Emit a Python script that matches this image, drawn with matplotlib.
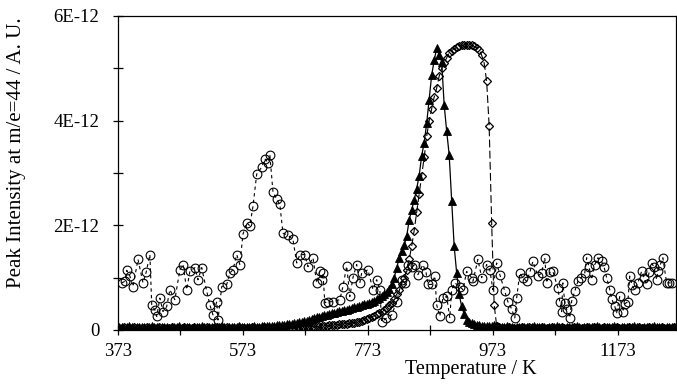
"""
TPD profile: m/e=44 peak intensity vs. temperature for three samples.
"""

import numpy as np
import matplotlib
matplotlib.use("Agg")
import matplotlib.pyplot as plt
from matplotlib.ticker import FuncFormatter, MultipleLocator

plt.rcParams.update({
    "font.family": ["Liberation Serif", "DejaVu Serif"],
    "font.size": 13.5,
    "axes.linewidth": 0.9,
})

SCALE = 1e-12

# Sample A (open circles): noisy signal with a peak near 610 K
circ_temp = [
    379, 384, 387, 392, 397, 405, 413, 418, 424, 427,
    432, 435, 440, 445, 451, 456, 464, 472, 477, 483,
    488, 496, 501, 507, 515, 520, 525, 531, 533, 539,
    547, 552, 557, 563, 568, 573, 579, 584, 589, 595,
    603, 608, 613, 616, 621, 627, 632, 637, 645, 653,
    659, 664, 672, 677, 685, 691, 696, 699, 701, 704,
    709, 717, 728, 733, 739, 744, 749, 755, 760, 763,
    773, 781, 787, 792, 795, 802, 811, 819, 827, 832,
    837, 843, 848, 853, 861, 866, 869, 875, 880, 883,
    888, 893, 899, 904, 907, 912, 920, 925, 931, 939,
    941, 949, 955, 963, 968, 973, 979, 984, 992, 997,
    1003, 1008, 1011, 1016, 1021, 1027, 1032, 1037, 1045, 1051,
    1056, 1059, 1064, 1069, 1077, 1080, 1083, 1085, 1088, 1091,
    1096, 1099, 1104, 1109, 1114, 1120, 1123, 1127, 1131, 1136,
    1141, 1147, 1151, 1155, 1160, 1163, 1168, 1171, 1176, 1181,
    1184, 1189, 1192, 1196, 1200, 1205, 1211, 1215, 1219, 1223,
    1227, 1231, 1235, 1237, 1241, 1245, 1251, 1255, 1259,
]
circ_vals = [
    0.90, 0.93, 1.14, 1.03, 0.83, 1.35, 0.90, 1.10, 1.44, 0.48,
    0.38, 0.26, 0.61, 0.35, 0.45, 0.77, 0.58, 1.15, 1.25, 0.77,
    1.12, 1.19, 0.96, 1.19, 0.74, 0.48, 0.29, 0.54, 0.19, 0.83,
    0.87, 1.09, 1.15, 1.44, 1.25, 1.83, 2.05, 1.99, 2.36, 2.98,
    3.11, 3.27, 3.20, 3.35, 2.64, 2.50, 2.40, 1.85, 1.81, 1.73,
    1.28, 1.44, 1.44, 1.21, 1.38, 0.90, 1.12, 0.96, 1.09, 0.52,
    0.54, 0.54, 0.58, 0.83, 1.22, 0.64, 1.00, 1.25, 0.90, 1.09,
    1.15, 0.77, 0.96, 0.77, 0.16, 0.22, 0.29, 0.54, 0.95, 0.90,
    1.25, 1.20, 1.25, 1.06, 1.25, 1.10, 0.87, 0.87, 1.03, 0.48,
    0.26, 0.61, 0.64, 0.23, 0.77, 0.90, 0.83, 0.77, 1.12, 1.00,
    0.93, 1.35, 1.00, 1.25, 1.15, 0.77, 1.28, 1.06, 0.74, 0.54,
    0.40, 0.23, 0.61, 1.09, 1.00, 0.93, 1.10, 1.31, 1.03, 1.09,
    1.38, 0.90, 1.10, 1.12, 0.80, 0.54, 0.35, 0.90, 0.52, 0.40,
    0.23, 0.55, 0.74, 0.93, 1.00, 1.09, 1.38, 1.20, 0.96, 1.25,
    1.38, 1.31, 1.20, 1.00, 0.77, 0.60, 0.45, 0.33, 0.64, 0.35,
    0.50, 0.54, 1.03, 0.85, 0.77, 0.90, 1.12, 1.00, 0.87, 1.10,
    1.28, 1.20, 0.96, 1.12, 1.25, 1.38, 0.90, 0.90, 0.90,
]

# Samples B (filled triangles) and C (open diamonds) share a 4 K grid
grid_temp = np.arange(375, 1264, 4)

tri_vals = (
    # 375-591 K
    [0.05, 0.06, 0.04, 0.05, 0.07, 0.05, 0.04, 0.06, 0.05, 0.05,
     0.06, 0.04, 0.05, 0.07, 0.05, 0.06, 0.04, 0.05, 0.06, 0.05,
     0.04, 0.06, 0.05, 0.05, 0.07, 0.04, 0.05, 0.06, 0.05, 0.04,
     0.06, 0.05, 0.05, 0.07, 0.05, 0.04, 0.06, 0.05, 0.06, 0.05,
     0.05, 0.07, 0.05, 0.04, 0.06, 0.06, 0.05, 0.05, 0.07, 0.06,
     0.05, 0.06, 0.06, 0.05, 0.07]
    # 595-819 K
    + [0.06, 0.06, 0.07, 0.07, 0.07, 0.08, 0.08, 0.08, 0.09, 0.09,
       0.10, 0.10, 0.11, 0.11, 0.12, 0.13, 0.14, 0.15, 0.16, 0.17,
       0.18, 0.19, 0.21, 0.22, 0.24, 0.25, 0.27, 0.28, 0.29, 0.31,
       0.32, 0.33, 0.35, 0.36, 0.37, 0.38, 0.39, 0.40, 0.42, 0.43,
       0.44, 0.46, 0.47, 0.49, 0.50, 0.52, 0.54, 0.56, 0.59, 0.62,
       0.65, 0.69, 0.73, 0.79, 0.88, 1.00, 1.18]
    # 823-979 K
    + [1.38, 1.50, 1.62, 1.79, 2.10, 2.30, 2.48, 2.70, 2.95, 3.33,
       3.58, 3.95, 4.40, 4.87, 5.15, 5.38, 5.25, 5.13, 4.30, 3.80,
       3.35, 2.47, 1.60, 1.09, 0.68, 0.45, 0.30, 0.19, 0.15, 0.13,
       0.11, 0.10, 0.09, 0.08, 0.08, 0.07, 0.07, 0.08, 0.09, 0.07]
    # 983-1263 K
    + [0.06, 0.05, 0.05, 0.07, 0.05, 0.06, 0.04, 0.05, 0.06, 0.05,
       0.05, 0.06, 0.04, 0.05, 0.07, 0.05, 0.05, 0.06, 0.05, 0.04,
       0.06, 0.05, 0.05, 0.07, 0.06, 0.05, 0.04, 0.05, 0.06, 0.05,
       0.05, 0.07, 0.05, 0.04, 0.06, 0.05, 0.06, 0.05, 0.05, 0.07,
       0.05, 0.04, 0.06, 0.05, 0.05, 0.06, 0.07, 0.05, 0.04, 0.06,
       0.05, 0.06, 0.05, 0.05, 0.07, 0.05, 0.06, 0.04, 0.05, 0.06,
       0.05, 0.05, 0.07, 0.05, 0.06, 0.05, 0.04, 0.06, 0.05, 0.05,
       0.06]
)

dia_vals = (
    # 375-655 K
    [0.04, 0.03, 0.05, 0.04, 0.03, 0.04, 0.05, 0.03, 0.04, 0.04,
     0.03, 0.05, 0.04, 0.03, 0.04, 0.04, 0.05, 0.03, 0.04, 0.03,
     0.04, 0.05, 0.03, 0.04, 0.04, 0.03, 0.05, 0.04, 0.03, 0.04,
     0.05, 0.04, 0.03, 0.04, 0.04, 0.05, 0.03, 0.04, 0.03, 0.05,
     0.04, 0.03, 0.04, 0.05, 0.04, 0.03, 0.04, 0.04, 0.05, 0.03,
     0.04, 0.04, 0.03, 0.05, 0.04, 0.04, 0.03, 0.04, 0.05, 0.04,
     0.04, 0.03, 0.04, 0.05, 0.04, 0.04, 0.03, 0.05, 0.04, 0.04,
     0.05]
    # 659-839 K
    + [0.05, 0.05, 0.05, 0.06, 0.06, 0.06, 0.06, 0.06, 0.07, 0.07,
       0.07, 0.08, 0.08, 0.09, 0.09, 0.10, 0.10, 0.11, 0.11, 0.12,
       0.12, 0.13, 0.13, 0.14, 0.15, 0.16, 0.18, 0.20, 0.21, 0.23,
       0.25, 0.27, 0.30, 0.32, 0.34, 0.38, 0.42, 0.47, 0.52, 0.60,
       0.68, 0.77, 0.88, 1.00, 1.15, 1.35]
    # 843-979 K
    + [1.60, 1.90, 2.25, 2.60, 2.95, 3.30, 3.70, 4.00, 4.23, 4.45,
       4.62, 4.85, 5.00, 5.10, 5.20, 5.30, 5.34, 5.37, 5.40, 5.42,
       5.44, 5.45, 5.45, 5.45, 5.44, 5.42, 5.39, 5.35, 5.25, 5.10,
       4.75, 3.90, 2.05, 0.48, 0.08]
    # 983-1263 K
    + [0.05, 0.04, 0.03, 0.04, 0.05, 0.04, 0.03, 0.04, 0.04, 0.05,
       0.03, 0.04, 0.05, 0.04, 0.03, 0.04, 0.04, 0.05, 0.04, 0.03,
       0.04, 0.05, 0.04, 0.03, 0.04, 0.05, 0.04, 0.04, 0.03, 0.04,
       0.05, 0.04, 0.03, 0.04, 0.04, 0.05, 0.03, 0.04, 0.05, 0.04,
       0.04, 0.03, 0.05, 0.04, 0.04, 0.03, 0.04, 0.05, 0.04, 0.03,
       0.04, 0.04, 0.05, 0.03, 0.04, 0.04, 0.05, 0.04, 0.03, 0.04,
       0.05, 0.04, 0.04, 0.03, 0.04, 0.05, 0.04, 0.03, 0.04, 0.04,
       0.05]
)

x_major = [373, 573, 773, 973, 1173]
x_minor = [473, 673, 873, 1073]


def sci_label(v, _pos):
    if abs(v) < 1e-20:
        return "0"
    return f"{v / SCALE:.0f}E-12"


fig = plt.figure(figsize=(6.77, 3.85), dpi=100)
ax = fig.add_axes([0.1743, 0.1429, 0.8242, 0.8156])

ax.plot(circ_temp, np.array(circ_vals) * SCALE, color="black", lw=0.8,
        ls=(0, (3, 3)), marker="o", ms=6.3, mfc="none", mec="black", mew=0.8)
ax.plot(grid_temp, np.array(tri_vals) * SCALE, color="black", lw=0.9,
        ls="-", marker="^", ms=6.3, mfc="black", mec="black", mew=0.6)
ax.plot(grid_temp, np.array(dia_vals) * SCALE, color="black", lw=0.8,
        ls=(0, (7, 3)), marker="D", ms=4.3, mfc="none", mec="black", mew=0.9)

ax.set_xlim(373, 1266)
ax.set_ylim(0, 6 * SCALE)
ax.set_xticks(x_major)
ax.set_xticks(x_minor, minor=True)
ax.yaxis.set_major_locator(MultipleLocator(2 * SCALE))
ax.yaxis.set_minor_locator(MultipleLocator(1 * SCALE))
ax.yaxis.set_major_formatter(FuncFormatter(sci_label))

ax.tick_params(axis="both", which="both", direction="inout", length=7, width=0.9)
ax.tick_params(axis="x", which="major", pad=6)
ax.tick_params(axis="y", which="major", pad=10)
ax.tick_params(top=False, right=False)

ax.set_xlabel("Temperature / K", fontsize=14.5)
ax.set_ylabel("Peak Intensity at m/e=44 / A. U.", fontsize=15)
ax.xaxis.set_label_coords(0.633, -0.095)
ax.yaxis.set_label_coords(-0.165, 0.565)

fig.savefig("out.png", dpi=100)
plt.close()
